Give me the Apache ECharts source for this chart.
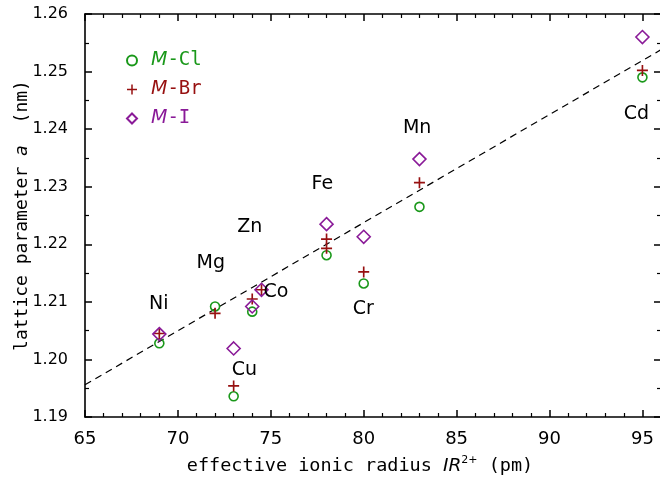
<!DOCTYPE html>
<html>
<head>
<meta charset="utf-8">
<script src="https://cdn.jsdelivr.net/npm/echarts@6/dist/echarts.min.js"></script>
<style>
  html, body { margin: 0; padding: 0; background: #fff; }
  #chart { width: 660px; height: 478px; }
</style>
</head>
<body>
<div id="chart"></div>
<script>
// Effective ionic radius IR(2+) of each metal (pm)
const metals = ['Ni', 'Mg', 'Cu', 'Zn', 'Co', 'Fe', 'Cr', 'Mn', 'Cd'];
const metalRadius = [69, 72, 73, 74, 74.5, 78, 80, 83, 95];

// Lattice parameter a (nm) for the chlorides
const clRadius = [69, 72, 73, 74, 78, 80, 83, 95];
const clA = [1.2028, 1.2092, 1.1936, 1.2083, 1.2181, 1.2132, 1.2265, 1.2490];

// Lattice parameter a (nm) for the bromides (two values for Fe)
const brRadius = [69, 72, 73, 74, 74.5, 78, 78, 80, 83, 95];
const brA = [1.2045, 1.2080, 1.1954, 1.2105, 1.2121, 1.2209, 1.2193, 1.2152, 1.2307, 1.2502];

// Lattice parameter a (nm) for the iodides
const iRadius = [69, 73, 74, 74.5, 78, 80, 83, 95];
const iA = [1.2044, 1.2019, 1.2092, 1.2121, 1.2235, 1.2213, 1.2348, 1.2560];

// Linear trend across the whole radius range
const fitRadius = [65, 96];
const fitA = [1.1956, 1.2538];

// Axis ticks
const xTicks = [65, 70, 75, 80, 85, 90, 95];
const yTicks = [1.19, 1.20, 1.21, 1.22, 1.23, 1.24, 1.25, 1.26];

// ---- layout & styling ----
const GREEN = '#1a981a', RED = '#971010', PURPLE = '#8a1a98';
const SANS = 'DejaVu Sans', MONO = 'DejaVu Sans Mono';

// where each metal's name sits (data units)
const nameSpot = {
  Ni: [69.0, 1.2096], Mg: [71.8, 1.2167], Zn: [73.9, 1.2229], Co: [75.3, 1.2116],
  Cu: [73.6, 1.1980], Fe: [77.8, 1.2304], Cr: [80.0, 1.2087], Mn: [82.9, 1.2401],
  Cd: [94.7, 1.2425]
};

const PLUS = 'path://M4.25,0H5.75V4.25H10V5.75H5.75V10H4.25V5.75H0V4.25H4.25Z';

const zip = (xs, ys) => xs.map((x, i) => [x, ys[i]]);

const chart = echarts.init(document.getElementById('chart'), null, { renderer: 'canvas' });

const axisLine = { show: true, onZero: false, lineStyle: { color: '#000', width: 1.6 } };
const majorTick = { show: true, inside: true, length: 7, lineStyle: { color: '#000', width: 1.5 } };
const minorTick = (n) => ({ show: true, splitNumber: n, length: 4, lineStyle: { color: '#000', width: 1.2 } });

const xBase = {
  type: 'value', min: xTicks[0], max: fitRadius[1], interval: xTicks[1] - xTicks[0],
  axisLine, axisTick: majorTick, minorTick: minorTick(5), splitLine: { show: false }
};
const yBase = {
  type: 'value', min: yTicks[0], max: yTicks[yTicks.length - 1],
  interval: +(yTicks[1] - yTicks[0]).toFixed(2),
  axisLine, axisTick: majorTick, minorTick: minorTick(2), splitLine: { show: false }
};

const legendRich = (c) => ({
  color: c,
  rich: {
    i: { color: c, fontStyle: 'italic', fontFamily: SANS, fontSize: 19 },
    n: { color: c, fontFamily: MONO, fontSize: 19 }
  }
});

chart.setOption({
  animation: false,
  backgroundColor: '#fff',
  grid: {
    left: 85, top: 14, width: 576, height: 403,
    containLabel: false, outerBoundsMode: 'none'
  },
  legend: {
    orient: 'vertical', left: 121, top: 46, itemGap: 10,
    itemWidth: 10, itemHeight: 10,
    textStyle: { fontSize: 19, fontFamily: MONO, padding: [0, 0, 0, 9] },
    formatter: (name) => '{i|M}{n|' + name.slice(1) + '}',
    data: [
      { name: 'M-Cl', textStyle: legendRich(GREEN) },
      { name: 'M-Br', textStyle: legendRich(RED) },
      { name: 'M-I', textStyle: legendRich(PURPLE) }
    ]
  },
  xAxis: [
    Object.assign({}, xBase, {
      position: 'bottom',
      axisLabel: {
        show: true, color: '#000', fontSize: 18, fontFamily: SANS, margin: 13,
        showMaxLabel: false,
        formatter: (v) => (xTicks.includes(v) ? String(v) : '')
      },
      name: '{t|effective ionic radius }{i|IR}{s|2+}{t| (pm)}',
      nameLocation: 'middle', nameGap: 38, nameMoveOverlap: false,
      nameTextStyle: {
        color: '#000', padding: [0, 26, 0, 0],
        rich: {
          t: { fontFamily: MONO, fontSize: 18.5, color: '#000', lineHeight: 22 },
          i: { fontFamily: SANS, fontStyle: 'italic', fontSize: 18.5, color: '#000', lineHeight: 22 },
          s: { fontFamily: SANS, fontSize: 11, color: '#000', verticalAlign: 'top', lineHeight: 22, padding: [0, 0, 10, 0] }
        }
      }
    }),
    Object.assign({}, xBase, { position: 'top', axisLabel: { show: false } })
  ],
  yAxis: [
    Object.assign({}, yBase, {
      position: 'left',
      axisLabel: {
        show: true, color: '#000', fontSize: 16, fontFamily: SANS, margin: 17,
        formatter: (v) => v.toFixed(2)
      },
      name: '{t|lattice parameter }{i|a}{t|  (nm)}',
      nameLocation: 'middle', nameGap: 54, nameRotate: 90, nameMoveOverlap: false,
      nameTextStyle: {
        color: '#000',
        rich: {
          t: { fontFamily: MONO, fontSize: 18, color: '#000' },
          i: { fontFamily: MONO, fontStyle: 'italic', fontSize: 18, color: '#000' }
        }
      }
    }),
    Object.assign({}, yBase, { position: 'right', axisLabel: { show: false } })
  ],
  series: [
    {
      name: 'fit', type: 'line', data: zip(fitRadius, fitA), symbol: 'none',
      lineStyle: { color: '#000', width: 1.2, type: [7, 5] }, silent: true, z: 1
    },
    {
      name: 'M-Cl', type: 'scatter', data: zip(clRadius, clA),
      symbol: 'circle', symbolSize: 9,
      itemStyle: { color: 'rgba(255,255,255,0)', borderColor: GREEN, borderWidth: 1.6, opacity: 1 }, z: 3
    },
    {
      name: 'M-Br', type: 'scatter', data: zip(brRadius, brA),
      symbol: PLUS, symbolSize: 11,
      itemStyle: { color: RED, borderWidth: 0, opacity: 1 }, z: 4
    },
    {
      name: 'M-I', type: 'scatter', data: zip(iRadius, iA),
      symbol: 'diamond', symbolSize: 13,
      itemStyle: { color: 'rgba(255,255,255,0)', borderColor: PURPLE, borderWidth: 1.6, opacity: 1 }, z: 5
    },
    {
      name: 'metal', type: 'scatter', silent: true, symbolSize: 1, z: 6,
      itemStyle: { color: 'rgba(0,0,0,0)', opacity: 1 },
      data: metals.map((m, k) => ({ name: m, value: nameSpot[m], radius: metalRadius[k] })),
      label: {
        show: true, position: [0, 0], align: 'center', verticalAlign: 'middle',
        formatter: (p) => p.name, opacity: 1,
        color: '#000', fontSize: 19, fontFamily: SANS
      }
    }
  ]
});
</script>
</body>
</html>
